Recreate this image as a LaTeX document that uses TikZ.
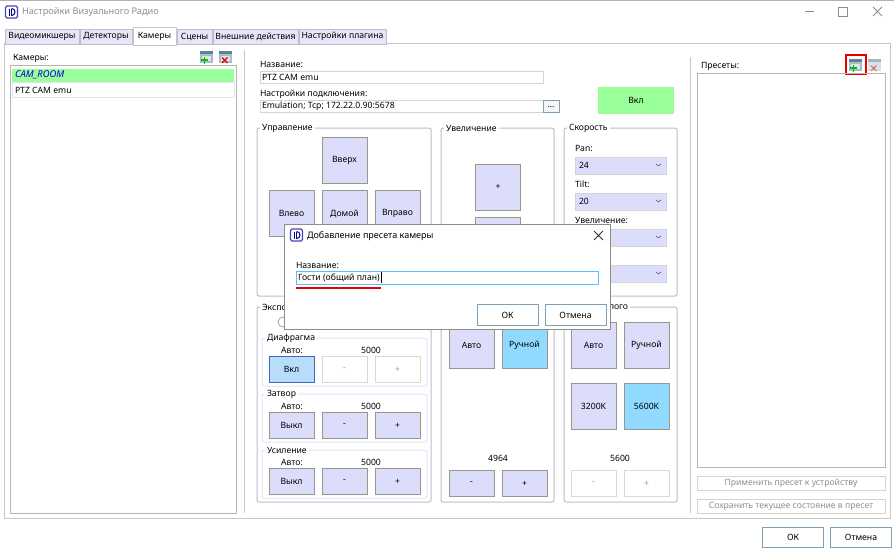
\documentclass[tikz,border=0pt]{standalone}
\usepackage{fontspec}
\setmainfont{Noto Sans}
\usetikzlibrary{positioning}
\definecolor{btnfill}{HTML}{DCDCFB}
\definecolor{btnline}{HTML}{97978A}
\definecolor{offline}{HTML}{DADAD4}
\definecolor{grpline}{HTML}{BDBDCB}
\definecolor{subline}{HTML}{E2E2FA}
\definecolor{tabfill}{HTML}{E6E6F7}
\definecolor{skyfill}{HTML}{90DAFF}
\definecolor{onfill}{HTML}{99FF99}
\definecolor{okline}{HTML}{7F9FB5}
\definecolor{fieldline}{HTML}{D4D4D0}
\definecolor{dimtext}{HTML}{8A8F98}
\definecolor{iconbar}{HTML}{5F8298}
\definecolor{iconbody}{HTML}{A9BDCB}
\definecolor{iconpane}{HTML}{DCE6EC}
\definecolor{irisfill}{HTML}{B8DCFB}
\definecolor{irisline}{HTML}{3D6AB8}
\definecolor{dlgline}{HTML}{8F8F80}
\newcommand{\presetkey}[4]{% x, y, mark colour, opacity
  \begin{scope}[shift={(#1,#2)},opacity=#4]
    \fill[iconbody] (0,0) rectangle (13,12);
    \fill[iconbar] (0,0) rectangle (13,3);
    \fill[iconpane] (2,4.5) rectangle (11,10);
    \draw[#3,line width=1.7pt] (1,9) -- (8,9);
    \draw[#3,line width=1.7pt] (4.5,5.5) -- (4.5,12.5);
  \end{scope}}
\newcommand{\dropkey}[4]{% x, y, mark colour, opacity
  \begin{scope}[shift={(#1,#2)},opacity=#4]
    \fill[iconbody] (0,0) rectangle (13,12);
    \fill[iconbar] (0,0) rectangle (13,3);
    \fill[iconpane] (2,4.5) rectangle (11,10);
    \draw[#3,line width=1.3pt] (3,6.5) -- (8.5,12);
    \draw[#3,line width=1.3pt] (8.5,6.5) -- (3,12);
  \end{scope}}
\newcommand{\radiologo}[2]{% x, y
  \begin{scope}[shift={(#1,#2)}]
    \draw[blue!45!gray,line width=1.1pt,rounded corners=1.5pt] (0,0) rectangle (12,12);
    \draw[blue!60!black,line width=1pt] (3.5,2.5) -- (3.5,9.5) (6,2.5) -- (6,9.5);
    \draw[blue!60!black,line width=1pt] (6,2.5) to[bend left=50] (9.5,6) to[bend left=50] (6,9.5);
  \end{scope}}
\begin{document}
\begin{tikzpicture}[
  x=1pt, y=-1pt,
  every node/.style={inner sep=0pt, outer sep=0pt, yshift=-.6pt, font=\fontsize{8.65}{10}\selectfont},
  lbl/.style={anchor=west},
  tabkey/.style={draw=grpline, fill=tabfill, minimum height=15pt, line width=.7pt},
  btn/.style={draw=btnline, fill=btnfill, line width=1pt, minimum width=45pt, minimum height=46pt},
  low/.style={btn, minimum height=26pt},
  off/.style={low, draw=offline, fill=white, text=black!40},
  field/.style={draw=fieldline, fill=white, line width=1pt, anchor=west},
  combo/.style={fill=btnfill, draw=fieldline, line width=.7pt, minimum width=91pt, minimum height=17pt},
  grp/.style={draw=grpline, line width=1pt, rounded corners=2pt},
  subgrp/.style={draw=subline, line width=1pt, rounded corners=2pt},
  grpcap/.style={anchor=west, fill=white, inner xsep=2pt, inner ysep=1pt},
  wide/.style={draw=fieldline, fill=white, line width=1pt, minimum width=188pt, minimum height=14pt, text=dimtext},
  okkey/.style={draw=okline, fill=white, line width=1pt, minimum width=61pt, minimum height=20pt}
]
\useasboundingbox (0,0) rectangle (894,552);
\fill[white] (0,0) rectangle (894,552);
\draw[black!30, line width=1pt] (0,0) -- (894,0);
% title bar
\radiologo{5.5}{6}
\node[lbl, text=dimtext, font=\fontsize{9.2}{10}\selectfont] (wintitle) at (22,12) {Настройки Визуального Радио};
\draw[black!45, line width=.8pt] (805,11) -- (814,11);
\draw[black!45, line width=.8pt] (838,7) rectangle (847,16);
\draw[black!45, line width=.8pt] (873,7) -- (882,16) (882,7) -- (873,16);
% tabs
\draw[black!22, line width=1pt] (4,518) -- (4,43) -- (890,43) -- (890,518) -- cycle;
\foreach \tabname/\xa/\xb/\txt in {mixers/5/79/Видеомикшеры, detect/80/132/Детекторы, scenes/177/212/Сцены, actions/213/298/Внешние действия, plugin/299/386/Настройки плагина}
  \node[tabkey, minimum width=\xb pt-\xa pt] (\tabname) at ({(\xa+\xb)/2},36) {\txt};
\node[tabkey, fill=white, draw=black!22, minimum width=43pt, minimum height=18pt] (cams) at (154.5,35.5) {Камеры};
% camera list
\node[lbl] (camlabel) at (13,58) {Камеры:};
\presetkey{200}{51}{green!75!black}{1}
\dropkey{219}{51}{red!85!black}{1}
\draw[btnline!70, line width=1pt] (10,65) rectangle (236,513);
\node[fill=onfill, minimum width=222pt, minimum height=13pt] (camroom) at (123,74.5) {};
\node[lbl, text=blue!85!black, font=\fontsize{9.4}{10}\selectfont\bfseries\itshape] (camroomtxt) at (15,74.5) {CAM\_ROOM};
\node[draw=subline, line width=.8pt, minimum width=222pt, minimum height=15pt] (camemu) at (123,89.5) {};
\node[lbl] (camemutxt) at (15,89.5) {PTZ CAM emu};
% separators
\draw[black!22, line width=1pt] (244,50) -- (244,513);
\draw[black!22, line width=1pt] (690,57) -- (690,513);
% name and connection
\node[lbl] (namelabel) at (260,64) {Название:};
\node[field, minimum width=283pt, minimum height=12pt] (namefield) at (260,76.5) {};
\node[lbl] (nametxt) at (262,76.5) {PTZ CAM emu};
\node[lbl] (connlabel) at (260,94) {Настройки подключения:};
\node[field, minimum width=283pt, minimum height=12pt] (connfield) at (260,106) {};
\node[lbl] (conntxt) at (262,106) {Emulation; Tcp; 172.22.0.90:5678};
\node[draw=okline, fill=black!4, line width=.8pt, minimum width=16pt, minimum height=12pt] (connkey) at (551,106) {...};
\node[fill=onfill, minimum width=76pt, minimum height=27pt] (powerkey) at (636,99.5) {Вкл};
% group frames
\draw[grp] (257,128) rectangle (431,296);
\draw[grp] (441,128) rectangle (554,296);
\draw[grp] (564,128) rectangle (677,296);
\draw[grp] (257,307) rectangle (431,502);
\draw[grp] (441,307) rectangle (554,502);
\draw[grp] (564,307) rectangle (677,502);
\node[grpcap] (ctrlcap) at (260,128) {Управление};
\node[grpcap] (zoomcap) at (444,128) {Увеличение};
\node[grpcap] (speedcap) at (567,128) {Скорость};
\node[grpcap] (expocap) at (260,307) {Экспо};
\node[grpcap] (whitecap) at (607,307) {лого};
% pan and tilt buttons
\foreach \keyname/\cx/\cy/\txt in {up/344.5/160/Вверх, left/291.5/213/Влево, home/344.5/213/Домой, right/397.5/213/Вправо, zoomin/498/186.5/+, zoomout/498/240/{}}
  \node[btn] (\keyname) at (\cx,\cy) {\txt};
% speed
\foreach \speedname/\cy/\txt/\val in {pan/148/Pan:/24, tilt/184/Tilt:/20, zoom/220/Увеличение:/{}, focus/256/{}/{}} {
  \node[lbl] (\speedname label) at (575,\cy) {\txt};
  \node[combo] (\speedname box) at (620.5,\cy+17) {};
  \node[lbl] (\speedname val) at (579,\cy+17) {\val};
  \draw[black!60, line width=.6pt] (656,\cy+16) -- (658.5,\cy+18) -- (661,\cy+16);
}
% exposure
\draw[black!40, line width=.7pt] (283,322) circle (5);
\foreach \subname/\cy/\txt in {iris/338/Диафрагма, shutter/394/Затвор, gain/450/Усиление} {
  \draw[subgrp] (262,\cy) rectangle (427,\cy+48);
  \node[grpcap] (\subname cap) at (265,\cy) {\txt};
  \node (\subname auto) at (292,\cy+12) {Авто:};
  \node (\subname val) at (371,\cy+12) {5000};
}
\node[low, fill=irisfill, draw=irisline] (irison) at (291.5,369) {Вкл};
\node[off] (irisminus) at (344.5,369) {-};
\node[off] (irisplus) at (397.5,369) {+};
\foreach \rowname/\cy in {shutter/425, gain/481} {
  \node[low] (\rowname off) at (291.5,\cy) {Выкл};
  \node[low] (\rowname minus) at (344.5,\cy) {-};
  \node[low] (\rowname plus) at (397.5,\cy) {+};
}
% focus and white balance
\node[btn] (focusauto) at (471.5,344.5) {Авто};
\node[btn, fill=skyfill] (focusman) at (524.5,344.5) {Ручной};
\node (focusval) at (498,458) {4964};
\node[low] (focusminus) at (471.5,483) {-};
\node[low] (focusplus) at (524.5,483) {+};
\node[btn] (whiteauto) at (593.5,344.5) {Авто};
\node[btn] (whiteman) at (646.5,344.5) {Ручной};
\node[btn] (warm) at (593.5,405.5) {3200K};
\node[btn, fill=skyfill] (cold) at (646.5,405.5) {5600K};
\node (whiteval) at (620,458) {5600};
\node[off] (whiteminus) at (593.5,483) {-};
\node[off] (whiteplus) at (646.5,483) {+};
% presets
\node[lbl] (presetlabel) at (701,66) {Пресеты:};
\presetkey{849}{59}{green!75!black}{1}
\draw[red!90!black, line width=2.5pt] (846,55) rectangle (866,74);
\dropkey{868}{59}{red!85!black}{.45}
\draw[btnline!70, line width=1pt] (697,73) rectangle (885,467);
\node[wide] (applykey) at (791,483) {Применить пресет к устройству};
\node[wide] (savekey) at (791,506) {Сохранить текущее состояние в пресет};
% window buttons
\node[okkey] (winok) at (793,537) {ОК};
\node[okkey] (wincancel) at (861,537) {Отмена};
% dialog
\node[draw=dlgline, fill=white, line width=1pt, minimum width=326pt, minimum height=105pt] (dialog) at (447,276.5) {};
\radiologo{290.5}{229}
\node[lbl, font=\fontsize{9}{10}\selectfont] (dlgtitle) at (307,235.5) {Добавление пресета камеры};
\draw[black!80, line width=.8pt] (594,231) -- (603,240) (603,231) -- (594,240);
\node[lbl] (dlglabel) at (296,265) {Название:};
\node[field, draw=blue!40!cyan!65, minimum width=302pt, minimum height=13pt] (dlgfield) at (296,277.5) {};
\node[lbl] (dlgtxt) at (298,277.5) {Гости (общий план)};
\draw[black, line width=.6pt] (381,272) -- (381,283);
\draw[red!90!black, line width=1.6pt] (296,288) -- (381,288);
\node[okkey, minimum height=21pt] (dlgok) at (507.5,314.5) {ОК};
\node[okkey, minimum height=21pt] (dlgcancel) at (575.5,314.5) {Отмена};
\end{tikzpicture}
\end{document}
